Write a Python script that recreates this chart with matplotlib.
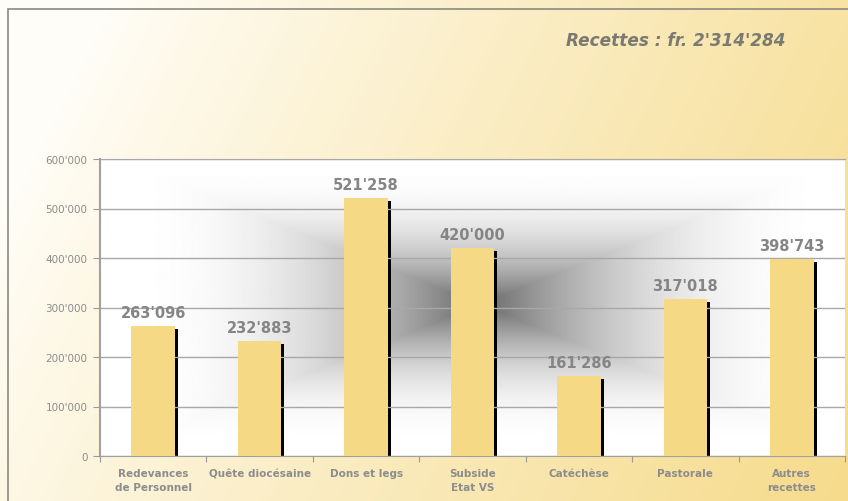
import numpy as np
import matplotlib.pyplot as plt
from matplotlib.patches import Rectangle

# data
categories = ["Redevances\nde Personnel", "Quête diocésaine", "Dons et legs",
              "Subside\nEtat VS", "Catéchèse", "Pastorale", "Autres\nrecettes"]
values = [263096, 232883, 521258, 420000, 161286, 317018, 398743]
title = "Recettes : fr. 2'314'284"


def fmt(v):
    return f"{v:,.0f}".replace(",", "'")


W, H = 848, 502
fig = plt.figure(figsize=(W / 100, H / 100), dpi=100)

# page background: white on the left, yellow on the right
bg = fig.add_axes([0, 0, 1, 1], zorder=0)
gx = np.linspace(0, 1, 300)
gy = np.linspace(0, 1, 200)
X, Y = np.meshgrid(gx, gy)
t = np.clip(X * 0.85 + (1 - Y) * 0.25 - 0.1, 0, 1) ** 0.9
c0 = np.array([1.0, 0.995, 0.975])
c1 = np.array([0.965, 0.86, 0.55])
img = c0[None, None, :] * (1 - t[..., None]) + c1[None, None, :] * t[..., None]
bg.imshow(img, extent=[0, 1, 0, 1], aspect="auto", origin="lower")
bg.set_xlim(0, 1)
bg.set_ylim(0, 1)
bg.axis("off")
bg.add_patch(Rectangle((8 / W, -0.01), 1.0, 1 - 10 / H + 0.01, fill=False,
                       edgecolor="#8a8a80", linewidth=1.2))

# plot area
left, right, top, bottom = 100, 845, 160, 457
ax = fig.add_axes([left / W, 1 - bottom / H, (right - left) / W, (bottom - top) / H], zorder=1)

# grey "cross" gradient behind the bars
px = np.linspace(-1, 1, 400)
py = np.linspace(-1, 1, 300)
PX, PY = np.meshgrid(px, py)
cx, cy = 0.02, 0.02
d = np.maximum(np.abs(PX - cx) / (1 - cx), np.abs(PY - cy) / (1 - cy))
shade = 1 - 0.6 * (1 - np.clip(d, 0, 1)) ** 2.3
ax.imshow(shade, cmap="gray", vmin=0, vmax=1, extent=[-0.5, 6.5, 0, 600000],
          aspect="auto", origin="lower", zorder=0)

x = np.arange(len(categories))
bw = 0.41
dx = 3 / ((right - left) / 7)
ax.bar(x + dx, [v - 6000 for v in values], width=bw, color="black", zorder=2)
ax.bar(x, values, width=bw, color="#f6d985", zorder=3)

for xi, v in zip(x, values):
    ax.text(xi, v + 12000, fmt(v), ha="center", va="bottom", fontsize=10.5,
            fontweight="bold", color="#858585", zorder=4)

ax.set_xlim(-0.5, 6.5)
ax.set_ylim(0, 600000)
ax.set_yticks(np.arange(0, 600001, 100000))
ax.set_yticklabels([fmt(v) for v in np.arange(0, 600001, 100000)],
                   fontsize=7.5, color="#8c8c8c")
ax.yaxis.grid(True, color="#a8a8a8", linewidth=1, zorder=1)
ax.set_axisbelow(False)
ax.tick_params(axis="y", length=5, color="#999999", pad=4)

ax.set_xticks(np.arange(-0.5, 7, 1))
ax.set_xticklabels([])
ax.tick_params(axis="x", length=4, color="#999999")
ax.set_xticks(x, minor=True)
ax.set_xticklabels(categories, minor=True, fontsize=7.5, fontweight="bold",
                   color="#8c8c8c", linespacing=1.4)
ax.tick_params(axis="x", which="minor", length=0, pad=9)

for s in ["top", "left", "bottom"]:
    ax.spines[s].set_color("#a0a0a0")
ax.spines["right"].set_visible(False)
ax.spines["left"].set_linewidth(1.5)

fig.text(785 / W, 1 - 41 / H, title, ha="right", va="center", fontsize=12.2,
         fontweight="bold", fontstyle="italic", color="#7a7a72")

fig.savefig("out.png", dpi=100)
